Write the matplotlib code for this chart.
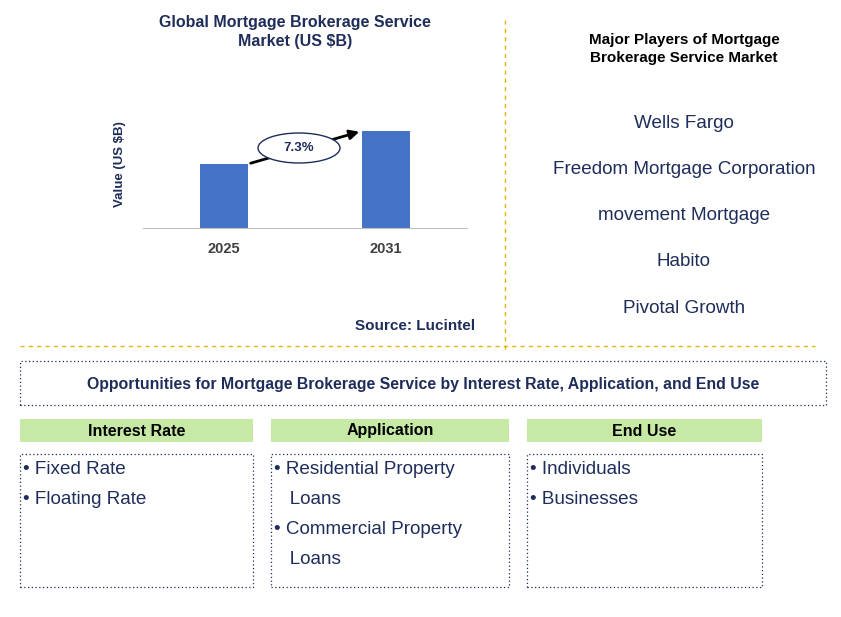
import matplotlib
matplotlib.use("Agg")
import matplotlib.pyplot as plt
from matplotlib.patches import Rectangle, Ellipse, FancyArrowPatch

plt.rcParams["font.family"] = "Liberation Sans"

years = ["2025", "2031"]
values = [2.5, 3.8]
cagr_label = "7.3%"
players = ["Wells Fargo", "Freedom Mortgage Corporation", "movement Mortgage", "Habito", "Pivotal Growth"]
segments = ["Interest Rate", "Application", "End Use"]
segment_items = [["• Fixed Rate", "• Floating Rate"],
                 ["• Residential Property", "   Loans", "• Commercial Property", "   Loans"],
                 ["• Individuals", "• Businesses"]]

W, H = 841, 617
fig = plt.figure(figsize=(W/100, H/100), dpi=100)
def fx(x): return x / W
def fy(y): return 1 - y / H
navy = "#1f2d5a"
gold = "#e8b400"

ax = fig.add_axes([fx(143), fy(228), fx(467) - fx(143), fy(100) - fy(228)])
ax.bar(range(len(years)), values, width=0.30, color="#4472c4")
ax.set_xlim(-0.5, 1.5)
ax.set_ylim(0, values[1] * 128 / 97)
ax.set_xticks(range(len(years)))
ax.set_xticklabels(years, fontsize=10.5, fontweight="bold", color="#404040")
ax.tick_params(axis="x", length=0, pad=10)
ax.set_yticks([])
for s in ["top", "right", "left"]:
    ax.spines[s].set_visible(False)
ax.spines["bottom"].set_color("#c0c0c0")
ax.set_ylabel("Value (US $B)", fontsize=9.5, fontweight="bold", color=navy, labelpad=12)

fig.add_artist(FancyArrowPatch((fx(248), fy(164)), (fx(362), fy(131)), transform=fig.transFigure,
                               arrowstyle="-|>", mutation_scale=14, color="black", lw=2))
fig.add_artist(Ellipse((fx(299), fy(148)), 82 / W, 30 / H, transform=fig.transFigure,
                       facecolor="white", edgecolor=navy, lw=1))
fig.text(fx(299), fy(148), cagr_label, ha="center", va="center", fontsize=9.5, fontweight="bold", color=navy)

fig.text(fx(295), fy(32), "Global Mortgage Brokerage Service\nMarket (US $B)", ha="center", va="center",
         fontsize=11.5, fontweight="bold", color=navy, linespacing=1.4)
fig.text(fx(475), fy(326), "Source: Lucintel", ha="right", va="center", fontsize=11, fontweight="bold", color=navy)

fig.text(fx(684), fy(49), "Major Players of Mortgage\nBrokerage Service Market", ha="center", va="center",
         fontsize=11, fontweight="bold", color="black", linespacing=1.4)
for i, p in enumerate(players):
    fig.text(fx(684), fy(123 + i * 46.3), p, ha="center", va="center", fontsize=13.6, color=navy)

fig.add_artist(plt.Line2D([fx(505), fx(505)], [fy(20), fy(350)], transform=fig.transFigure,
                          color=gold, lw=1, ls=(0, (3, 3))))
fig.add_artist(plt.Line2D([fx(20), fx(815)], [fy(346), fy(346)], transform=fig.transFigure,
                          color=gold, lw=1, ls=(0, (3, 3))))

def box(x0, y0, x1, y1, **kw):
    fig.add_artist(Rectangle((fx(x0), fy(y1)), fx(x1) - fx(x0), fy(y0) - fy(y1),
                             transform=fig.transFigure, **kw))

box(20, 361, 826, 405, facecolor="none", edgecolor=navy, lw=0.9, ls=(0, (1, 2)))
fig.text(fx(423), fy(384), "Opportunities for Mortgage Brokerage Service by Interest Rate, Application, and End Use",
         ha="center", va="center", fontsize=11.4, fontweight="bold", color=navy)

cols = [(20, 253), (271, 509), (527, 762)]
for (x0, x1), seg, items in zip(cols, segments, segment_items):
    box(x0, 419, x1, 442, facecolor="#c6e9a6", edgecolor="none")
    fig.text(fx((x0 + x1) / 2), fy(431), seg, ha="center", va="center", fontsize=11.5, fontweight="bold", color="black")
    box(x0, 454, x1, 587, facecolor="none", edgecolor=navy, lw=0.9, ls=(0, (1, 2)))
    for j, it in enumerate(items):
        fig.text(fx(x0 + 3), fy(469 + j * 30), it, ha="left", va="center", fontsize=13.6, color=navy)

fig.savefig("out.png", dpi=100, facecolor="white")
